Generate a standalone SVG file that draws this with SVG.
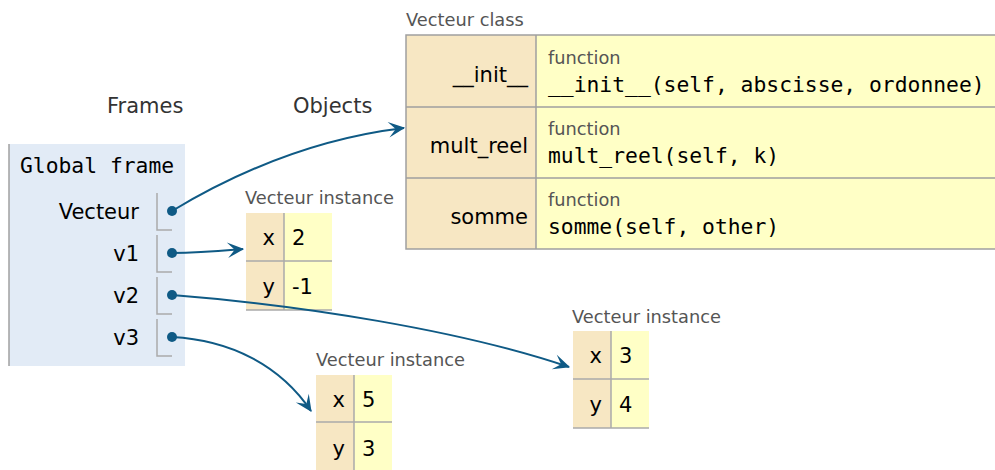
<svg xmlns="http://www.w3.org/2000/svg" width="995" height="470" viewBox="0 0 995 470">
<style>
.hdr{font-family:"DejaVu Sans",Verdana,sans-serif;font-size:21px;fill:#333}
.lbl{font-family:"DejaVu Sans",Verdana,sans-serif;font-size:21px;fill:#000}
.sm{font-family:"DejaVu Sans",Verdana,sans-serif;font-size:17.8px;fill:#555}
.mono{font-family:"DejaVu Sans Mono","Liberation Mono",monospace;font-size:21.33px;fill:#000}
.key{fill:#f7e7c3}
.val{fill:#ffffc6}
.ln{stroke:#a0a0a0;stroke-width:1.5;fill:none}
.cell{stroke:#aaaaaa;stroke-width:1.5;fill:none}
.dot{fill:#0f5a85}
.arr{stroke:#0f5a85;stroke-width:2;fill:none;marker-end:url(#ah)}
.r{text-anchor:end}
</style>
<defs>
<marker id="ah" markerUnits="userSpaceOnUse" markerWidth="20" markerHeight="20" viewBox="-16 -8 18 16" refX="0" refY="0" orient="auto">
<path d="M1,0 L-14,-7 L-7.5,0 L-14,7 Z" fill="#0f5a85"/>
</marker>
</defs>
<text class="hdr" x="107" y="113">Frames</text>
<text class="hdr" x="293" y="113">Objects</text>

<g id="frame-global">
<rect x="9" y="144" width="176" height="222" fill="#e2ebf6"/>
<line x1="9" y1="144" x2="9" y2="366" class="ln"/>
<text class="mono" x="20" y="173">Global frame</text>
<text class="lbl r" x="139" y="219">Vecteur</text>
<path class="cell" d="M157,193 V230 H172"/>
<circle class="dot" cx="172" cy="211" r="5"/>
<text class="lbl r" x="139" y="261">v1</text>
<path class="cell" d="M157,235 V272 H172"/>
<circle class="dot" cx="172" cy="253" r="5"/>
<text class="lbl r" x="139" y="303">v2</text>
<path class="cell" d="M157,277 V314 H172"/>
<circle class="dot" cx="172" cy="295" r="5"/>
<text class="lbl r" x="139" y="345">v3</text>
<path class="cell" d="M157,319 V356 H172"/>
<circle class="dot" cx="172" cy="337" r="5"/>
</g>

<g id="class-Vecteur">
<text class="sm" x="406" y="26">Vecteur class</text>
<rect class="key" x="406" y="35" width="130" height="214"/>
<rect class="val" x="536" y="35" width="470" height="214"/>
<path class="ln" d="M1000,35 H406 V249 H1000 M406,107 H1000 M406,178 H1000 M536,35 V249"/>
<text class="lbl r" x="528" y="82">__init__</text>
<text class="sm" x="548" y="64">function</text>
<text class="mono" x="548" y="92">__init__(self, abscisse, ordonnee)</text>
<text class="lbl r" x="528" y="153">mult_reel</text>
<text class="sm" x="548" y="135">function</text>
<text class="mono" x="548" y="163">mult_reel(self, k)</text>
<text class="lbl r" x="528" y="224">somme</text>
<text class="sm" x="548" y="206">function</text>
<text class="mono" x="548" y="234">somme(self, other)</text>
</g>

<g id="inst-v1">
<text class="sm" x="245" y="204">Vecteur instance</text>
<rect class="key" x="246" y="213" width="38" height="97"/>
<rect class="val" x="284" y="213" width="48" height="97"/>
<path class="cell" d="M284,213 V310 M246,261 H332 M246,310 H332"/>
<text class="lbl r" x="275" y="245">x</text>
<text class="lbl" x="292" y="245">2</text>
<text class="lbl r" x="275" y="294">y</text>
<text class="lbl" x="292" y="294">-1</text>
</g>

<g id="inst-v3">
<text class="sm" x="316" y="366">Vecteur instance</text>
<rect class="key" x="316" y="375" width="38" height="97"/>
<rect class="val" x="354" y="375" width="38" height="97"/>
<path class="cell" d="M354,375 V472 M316,422 H392"/>
<text class="lbl r" x="345" y="407">x</text>
<text class="lbl" x="362" y="407">5</text>
<text class="lbl r" x="345" y="456">y</text>
<text class="lbl" x="362" y="456">3</text>
</g>

<g id="inst-v2">
<text class="sm" x="572" y="323">Vecteur instance</text>
<rect class="key" x="573" y="331" width="38" height="97"/>
<rect class="val" x="611" y="331" width="38" height="97"/>
<path class="cell" d="M611,331 V428 M573,379 H649 M573,428 H649"/>
<text class="lbl r" x="602" y="363">x</text>
<text class="lbl" x="619" y="363">3</text>
<text class="lbl r" x="602" y="412">y</text>
<text class="lbl" x="619" y="412">4</text>
</g>

<g id="connectors">
<path class="arr" d="M172,211 C240,170 320,138 404,128"/>
<path class="arr" d="M172,253 C200,253 220,251 243,249"/>
<path class="arr" d="M172,295 C300,305 460,330 569,367"/>
<path class="arr" d="M172,337 C230,340 280,365 311,411"/>
</g>
</svg>
